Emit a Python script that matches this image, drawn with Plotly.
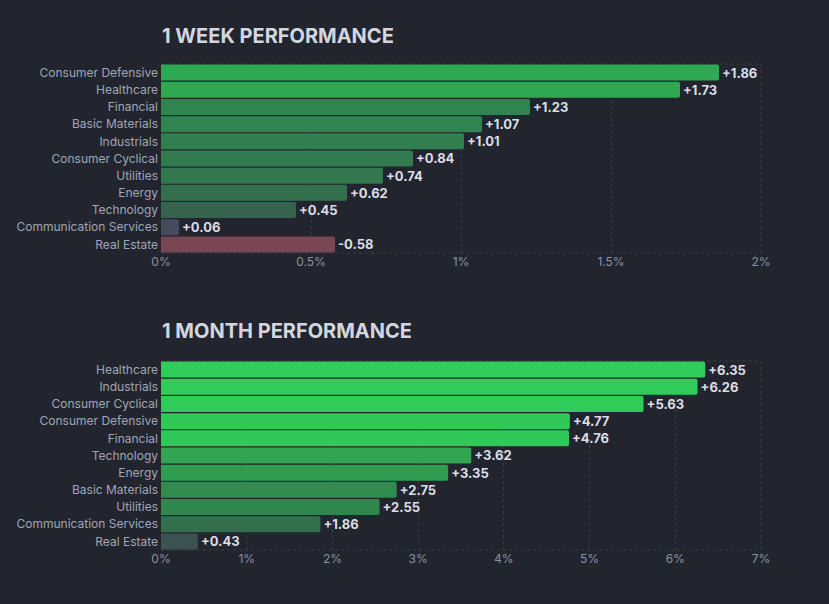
import plotly.graph_objects as go

week_sectors = ["Consumer Defensive", "Healthcare", "Financial", "Basic Materials", "Industrials",
                "Consumer Cyclical", "Utilities", "Energy", "Technology", "Communication Services", "Real Estate"]
week_values = [1.86, 1.73, 1.23, 1.07, 1.01, 0.84, 0.74, 0.62, 0.45, 0.06, -0.58]
week_colors = ["#2fa852", "#2fa852", "#30844f", "#30844f", "#317f4f", "#327b4e", "#33774e",
               "#336f4d", "#35634d", "#454a5c", "#7b4654"]

month_sectors = ["Healthcare", "Industrials", "Consumer Cyclical", "Consumer Defensive", "Financial",
                 "Technology", "Energy", "Basic Materials", "Utilities", "Communication Services", "Real Estate"]
month_values = [6.35, 6.26, 5.63, 4.77, 4.76, 3.62, 3.35, 2.75, 2.55, 1.86, 0.43]
month_colors = ["#30cc5a", "#30cc5a", "#30cc5a", "#30c859", "#30c859", "#30a452", "#2f9c50",
                "#308c4e", "#30874e", "#336f4c", "#3c5252"]

week_ticks = [0, 0.5, 1, 1.5, 2]
week_ticktext = ["0%", "0.5%", "1%", "1.5%", "2%"]
month_ticks = [0, 1, 2, 3, 4, 5, 6, 7]
month_ticktext = ["0%", "1%", "2%", "3%", "4%", "5%", "6%", "7%"]

BG = "#22252e"
GRID = "#3a3e4b"
TICK = "#8c91a3"
LABEL = "#a0a5b6"
FONT = "Inter"

def fmt(v):
    return ("+" if v >= 0 else "") + f"{v:.2f}"

fig = go.Figure()
fig.add_trace(go.Bar(
    y=week_sectors, x=[abs(v) for v in week_values], orientation="h",
    marker=dict(color=week_colors, line=dict(width=0), cornerradius=2),
    text=[fmt(v) for v in week_values], textposition="outside",
    textfont=dict(family=FONT, size=13, color="#dcdee6", weight="bold"),
    cliponaxis=False, xaxis="x", yaxis="y", hoverinfo="skip"))
fig.add_trace(go.Bar(
    y=month_sectors, x=month_values, orientation="h",
    marker=dict(color=month_colors, line=dict(width=0), cornerradius=2),
    text=[fmt(v) for v in month_values], textposition="outside",
    textfont=dict(family=FONT, size=13, color="#dcdee6", weight="bold"),
    cliponaxis=False, xaxis="x2", yaxis="y2", hoverinfo="skip"))

xd = [161 / 829, 761 / 829]
y1d = [1 - 253 / 604, 1 - 64 / 604]
y2d = [1 - 550 / 604, 1 - 361 / 604]

xcommon = dict(showgrid=True, gridcolor=GRID, griddash="3px,3px", gridwidth=1, zeroline=False,
               showline=False, ticks="", fixedrange=True, automargin=False,
               tickfont=dict(family=FONT, size=12, color=TICK))
ycommon = dict(showgrid=False, zeroline=False, showline=False, ticks="", autorange="reversed",
               automargin=False, ticklabelstandoff=2,
               tickfont=dict(family=FONT, size=12, color=LABEL), fixedrange=True)

fig.update_layout(
    width=829, height=604, paper_bgcolor=BG, plot_bgcolor=BG,
    margin=dict(l=0, r=0, t=0, b=0, pad=0), showlegend=False, bargap=0.07,
    font=dict(family=FONT),
    xaxis=dict(domain=xd, range=[0, 2], tickvals=week_ticks, ticktext=week_ticktext, anchor="y", **xcommon),
    yaxis=dict(domain=y1d, anchor="x", **ycommon),
    xaxis2=dict(domain=xd, range=[0, 7], tickvals=month_ticks, ticktext=month_ticktext, anchor="y2", **xcommon),
    yaxis2=dict(domain=y2d, anchor="x2", **ycommon),
)

for xr, yr in [("x domain", "y domain"), ("x2 domain", "y2 domain")]:
    for (x0, y0, x1, y1) in [(0, 1, 1, 1), (0, 0, 1, 0), (1, 0, 1, 1)]:
        fig.add_shape(type="line", xref=xr, yref=yr, x0=x0, y0=y0, x1=x1, y1=y1,
                      line=dict(color=GRID, width=1, dash="3px,3px"), layer="below")

for txt, ypx in [("1 WEEK PERFORMANCE", 36), ("1 MONTH PERFORMANCE", 331)]:
    fig.add_annotation(text=txt, xref="paper", yref="paper", x=160 / 829, y=1 - ypx / 604,
                       xanchor="left", yanchor="middle", showarrow=False,
                       font=dict(family=FONT, size=20, color="#d3d6de", weight="bold"))

fig.write_html("out.html", config={"displayModeBar": False},
               post_script="document.body.style.margin='0';document.body.style.background='#22252e';")
